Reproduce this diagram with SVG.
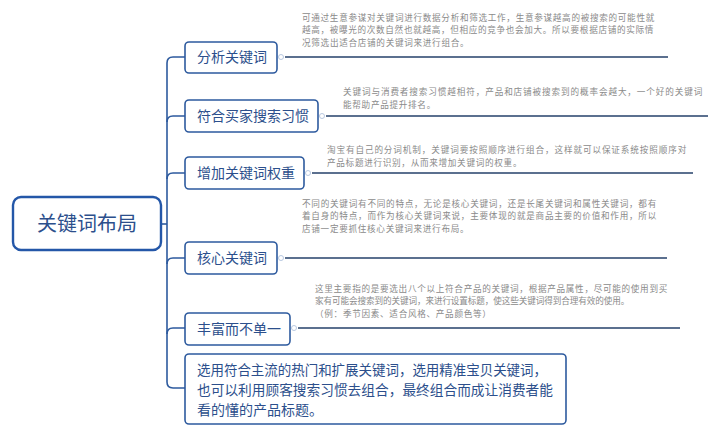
<svg xmlns="http://www.w3.org/2000/svg" width="720" height="436" viewBox="0 0 720 436">
<style>
.box{fill:#ffffff;stroke:#2d5a9e;stroke-width:1.6}
.root{fill:#ffffff;stroke:#2457a8;stroke-width:2.4}
.lbl{font-family:"Noto Sans CJK SC","Noto Sans",sans-serif;font-size:14px;fill:#2c4f8c}
.rlbl{font-family:"Noto Sans CJK SC","Noto Sans",sans-serif;font-size:20px;fill:#2c4f8c}
.note{font-family:"Noto Sans CJK SC","Noto Sans",sans-serif;font-size:8.6px;letter-spacing:0.7px;fill:#8a8a8a}
.tree{fill:none;stroke:#2d5a9e;stroke-width:1.6}
.hline{fill:none;stroke:#24406a;stroke-width:1.5}
.knob{fill:#ffffff;stroke:#b8c8e0;stroke-width:1}
</style>
<rect width="720" height="436" fill="#ffffff"/>
<g id="connectors">
<path class="tree" d="M161,224 H167"/>
<path class="tree" d="M167,382 V63 Q167,57 173,57 H185"/>
<path class="tree" d="M167,122 Q167,116 173,116 H185"/>
<path class="tree" d="M167,179 Q167,173 173,173 H185"/>
<path class="tree" d="M167,264 Q167,258 173,258 H185"/>
<path class="tree" d="M167,334 Q167,328 173,328 H185"/>
<path class="tree" d="M167,382 Q167,388 173,388 H185"/>
<path class="hline" d="M285,57 H668"/>
<path class="hline" d="M326,116 H708"/>
<path class="hline" d="M312,173 H693"/>
<path class="hline" d="M285,258 H667"/>
<path class="hline" d="M298,328 H680"/>
<circle class="knob" cx="281" cy="57" r="2.5"/>
<circle class="knob" cx="322" cy="116" r="2.5"/>
<circle class="knob" cx="308" cy="173" r="2.5"/>
<circle class="knob" cx="281" cy="258" r="2.5"/>
<circle class="knob" cx="294" cy="328" r="2.5"/>
</g>
<g id="root">
<rect class="root" x="13" y="197" width="148" height="53" rx="8"/>
<text class="rlbl" x="87" y="231" text-anchor="middle">关键词布局</text>
</g>
<g id="n1">
<rect class="box" x="185" y="42" width="92" height="31" rx="4"/>
<text class="lbl" x="197" y="62">分析关键词</text>
</g>
<g id="n1note">
<text class="note" x="302" y="20.8" textLength="353" lengthAdjust="spacing">可通过生意参谋对关键词进行数据分析和筛选工作，生意参谋越高的被搜索的可能性就</text>
<text class="note" x="302" y="33.3" textLength="352" lengthAdjust="spacing">越高，被曝光的次数自然也就越高，但相应的竞争也会加大。所以要根据店铺的实际情</text>
<text class="note" x="302" y="45.8">况筛选出适合店铺的关键词来进行组合。</text>
</g>
<g id="n2">
<rect class="box" x="185" y="100" width="133" height="32" rx="4"/>
<text class="lbl" x="197" y="121">符合买家搜索习惯</text>
</g>
<g id="n2note">
<text class="note" x="343" y="95" textLength="360" lengthAdjust="spacing">关键词与消费者搜索习惯越相符，产品和店铺被搜索到的概率会越大，一个好的关键词</text>
<text class="note" x="343" y="107.5">能帮助产品提升排名。</text>
</g>
<g id="n3">
<rect class="box" x="185" y="157" width="119" height="32" rx="4"/>
<text class="lbl" x="197" y="178">增加关键词权重</text>
</g>
<g id="n3note">
<text class="note" x="327" y="153" textLength="360" lengthAdjust="spacing">淘宝有自己的分词机制，关键词要按照顺序进行组合，这样就可以保证系统按照顺序对</text>
<text class="note" x="327" y="165.5">产品标题进行识别，从而来增加关键词的权重。</text>
</g>
<g id="n4">
<rect class="box" x="185" y="242" width="92" height="32" rx="4"/>
<text class="lbl" x="197" y="263">核心关键词</text>
</g>
<g id="n4note">
<text class="note" x="302" y="206.8" textLength="355" lengthAdjust="spacing">不同的关键词有不同的特点，无论是核心关键词，还是长尾关键词和属性关键词，都有</text>
<text class="note" x="302" y="219.3" textLength="355" lengthAdjust="spacing">着自身的特点，而作为核心关键词来说，主要体现的就是商品主要的价值和作用，所以</text>
<text class="note" x="302" y="231.8">店铺一定要抓住核心关键词来进行布局。</text>
</g>
<g id="n5">
<rect class="box" x="185" y="313" width="105" height="32" rx="4"/>
<text class="lbl" x="197" y="334">丰富而不单一</text>
</g>
<g id="n5note">
<text class="note" x="315" y="291.8" textLength="353" lengthAdjust="spacing">这里主要指的是要选出八个以上符合产品的关键词，根据产品属性，尽可能的使用到买</text>
<text class="note" x="315" y="304.3" textLength="315" lengthAdjust="spacing">家有可能会搜索到的关键词，来进行设置标题，使这些关键词得到合理有效的使用。</text>
<text class="note" x="315" y="316.8">（例：季节因素、适合风格、产品颜色等）</text>
</g>
<g id="n6">
<rect class="box" x="185" y="354" width="381" height="70" rx="4"/>
<text class="lbl" x="197" y="375" font-size="13.5" textLength="350" lengthAdjust="spacingAndGlyphs">选用符合主流的热门和扩展关键词，选用精准宝贝关键词，</text>
<text class="lbl" x="197" y="395" font-size="13.5" textLength="356" lengthAdjust="spacingAndGlyphs">也可以利用顾客搜索习惯去组合，最终组合而成让消费者能</text>
<text class="lbl" x="197" y="415" font-size="13.5">看的懂的产品标题。</text>
</g>
</svg>
